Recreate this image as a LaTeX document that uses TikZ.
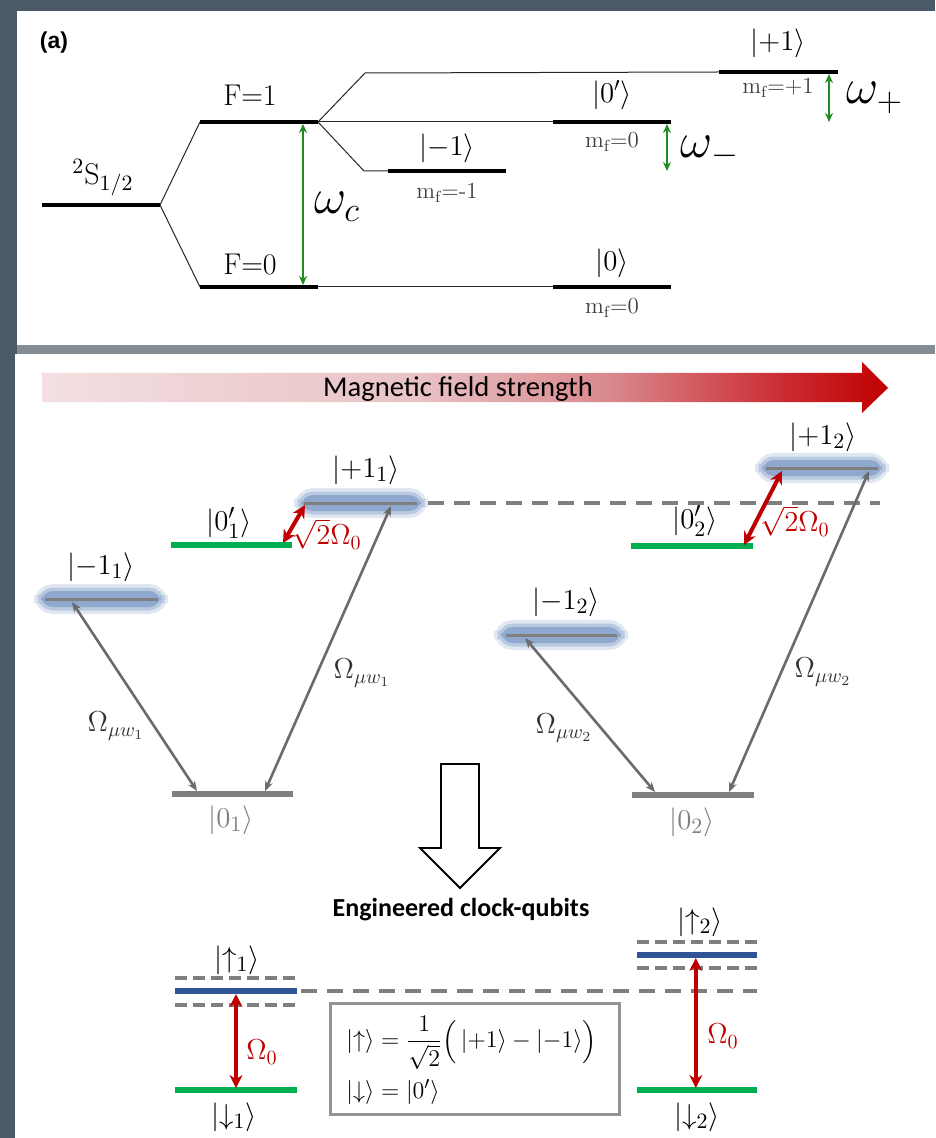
\documentclass[tikz,border=0pt]{standalone}
\usepackage{amsmath}
\usepackage{fontspec}
\newfontfamily\calibri{Carlito}
\newfontfamily\arialf{Liberation Sans}
\usetikzlibrary{arrows.meta, calc}
\definecolor{cFrame}{HTML}{4B5A66}
\definecolor{cSep}{HTML}{848B91}
\definecolor{cOsc}{HTML}{1E8C1E}
\definecolor{cGrn}{HTML}{00B050}
\definecolor{cBlu}{HTML}{2F5597}
\definecolor{cRed}{HTML}{C00000}
\definecolor{cGry}{HTML}{7F7F7F}
\definecolor{cArr}{HTML}{6B6B6B}
\definecolor{cGlow}{HTML}{7393C2}
\definecolor{cF0}{HTML}{F3DFE1}
\definecolor{cF1}{HTML}{E9C3C6}
\definecolor{cF2}{HTML}{D8858A}
\definecolor{cF3}{HTML}{CA2A30}
% Pfad wird auf 25bp..75bp abgebildet
\pgfdeclarehorizontalshading{field}{100bp}{color(0bp)=(cF0); color(25bp)=(cF0);
  color(47bp)=(cF1); color(59bp)=(cF2); color(69bp)=(cF3); color(75bp)=(cRed);
  color(100bp)=(cRed)}
\tikzset{
    lvl/.style   ={line width=2pt, black},
    thn/.style   ={line width=0.5pt, black!85},
    osc/.style   ={{Stealth[length=4.5pt, width=4pt]}-{Stealth[length=4.5pt, width=4pt]},
                   line width=1.4pt, cOsc},
    lbl/.style   ={font=\fontsize{15}{17}\selectfont, inner sep=1pt},
    ket/.style   ={font=\fontsize{14}{16}\selectfont, inner sep=1pt},
    bket/.style  ={font=\fontsize{15}{17}\selectfont, inner sep=1pt},
    mfl/.style   ={font=\fontsize{11.5}{13}\selectfont, text=black!75, inner sep=1pt},
    om/.style    ={font=\fontsize{23}{26}\selectfont, inner sep=1pt},
    glow/.style  ={rounded corners=6pt, fill=cGlow!80, minimum width=60pt,
                   minimum height=8pt, inner sep=0pt,
                   preaction={draw=cGlow!22, line width=7pt},
                   preaction={draw=cGlow!50, line width=3.5pt}},
    glvl/.style  ={line width=1.5pt, cGry},
    zlvl/.style  ={line width=3pt, cGry},
    grn/.style   ={line width=3pt, cGrn},
    blu/.style   ={line width=3pt, cBlu},
    dsh/.style   ={line width=2.2pt, cGry, dash pattern=on 8pt off 5pt},
    sdsh/.style  ={line width=2.2pt, cGry, dash pattern=on 6pt off 3pt},
    mw/.style    ={{Stealth[length=5pt, width=4pt]}-{Stealth[length=5pt, width=4pt]},
                   line width=1.3pt, cArr},
    rab/.style   ={{Stealth[length=6.5pt, width=6.5pt]}-{Stealth[length=6.5pt, width=6.5pt]},
                   line width=2pt, cRed},
    rlb/.style   ={font=\fontsize{14.5}{16}\selectfont, text=cRed, inner sep=1pt},
    oml/.style   ={font=\fontsize{14.5}{16}\selectfont, text=black!80, inner sep=1pt},
}

\begin{document}
\begin{tikzpicture}[x=0.5pt, y=-0.5pt]
\useasboundingbox (0,0) rectangle (935,1138);

% ===================== Rahmen =====================
\fill[cFrame] (0,0) rectangle (935,1138);
\fill[white] (17,11) rectangle (935,345);
\fill[cSep] (17,345) rectangle (935,354);
\fill[white] (15,354) rectangle (935,1138);

% ===================== (a) Hyperfeinstruktur =====================
\node[font=\arialf\bfseries\fontsize{11.5}{13}\selectfont] (tA) at (54,43) {(a)};

\coordinate (gsW) at (42,205);  \coordinate (gsE) at (160,205);
\coordinate (f1W) at (200,122); \coordinate (f1E) at (318,122);
\coordinate (f0W) at (200,287); \coordinate (f0E) at (318,287);
\coordinate (pW) at (719,72);   \coordinate (pE) at (838,72);
\coordinate (zpW) at (553,122); \coordinate (zpE) at (671,122);
\coordinate (mW) at (388,171);  \coordinate (mE) at (506,171);
\coordinate (zW) at (553,287);  \coordinate (zE) at (671,287);
\coordinate (kP) at (365,73);   \coordinate (kM) at (364,171);

\draw[thn] (gsE) -- (f1W);
\draw[thn] (gsE) -- (f0W);
\draw[thn] (f1E) -- (kP) -- (pW);
\draw[thn] (f1E) -- (zpW);
\draw[thn] (f1E) -- (kM) -- (mW);
\draw[thn] (f0E) -- (zW);

\draw[lvl] (gsW) -- (gsE);
\draw[lvl] (f1W) -- (f1E);
\draw[lvl] (f0W) -- (f0E);
\draw[lvl] (pW) -- (pE);
\draw[lvl] (zpW) -- (zpE);
\draw[lvl] (mW) -- (mE);
\draw[lvl] (zW) -- (zE);

\node[lbl] (tS) at (103,178) {$^2\mathrm{S}_{1/2}$};
\node[lbl] (tF1) at (250,95) {F=1};
\node[lbl] (tF0) at (250,265) {F=0};
\node[ket] (tP) at (778,43) {$|{+1}\rangle$};
\node[ket] (tZp) at (612,95) {$|0'\rangle$};
\node[ket] (tM) at (447,148) {$|{-1}\rangle$};
\node[ket] (tZ) at (612,263) {$|0\rangle$};
\node[mfl] (mfP) at (778,88) {m$_\mathrm{f}$=+1};
\node[mfl] (mfZp) at (612,142) {m$_\mathrm{f}$=0};
\node[mfl] (mfM) at (447,193) {m$_\mathrm{f}$=-1};
\node[mfl] (mfZ) at (612,308) {m$_\mathrm{f}$=0};

\draw[osc] ($(f1E)+(-15,2)$) -- ($(f0E)+(-15,-2)$);
\draw[osc] ($(zpE)+(-4,2)$) -- ($(zpE |- mE)+(-4,0)$);
\draw[osc] ($(pE)+(-9,2)$) -- ($(pE |- zpE)+(-9,0)$);
\node[om] (wC) at (337,207) {$\omega_c$};
\node[om] (wM) at (710,152) {$\omega_-$};
\node[om] (wP) at (875,98) {$\omega_+$};

% ===================== Magnetfeld-Pfeil =====================
\shade[shading=field] (42,373) -- (862,373) -- (862,362) -- (888,388)
      -- (862,413) -- (862,402) -- (42,402) -- cycle;
\node[font=\calibri\fontsize{14.3}{16}\selectfont] (mfTxt) at (458,389)
     {Magnetic field strength};

% ===================== Niveaus, Qubit 1 und 2 =====================
\node[glow] (gM1) at (101,599) {};
\node[glow] (gP1) at (361,503) {};
\node[glow] (gM2) at (561,635) {};
\node[glow] (gP2) at (822,468) {};

\coordinate (m1W) at (45,599);   \coordinate (m1E) at (158,599);
\coordinate (p1W) at (304,503);  \coordinate (p1E) at (417,503);
\coordinate (q1W) at (171,545);  \coordinate (q1E) at (292,545);
\coordinate (o1W) at (172,794);  \coordinate (o1E) at (293,794);
\coordinate (m2W) at (506,635);  \coordinate (m2E) at (617,635);
\coordinate (p2W) at (766,468);  \coordinate (p2E) at (878,468);
\coordinate (q2W) at (631,546);  \coordinate (q2E) at (753,546);
\coordinate (o2W) at (632,795);  \coordinate (o2E) at (754,795);
\coordinate (dshE) at (880,503);

\draw[dsh] ($(p1E)+(11,0)$) -- (dshE);
\draw[glvl] (m1W) -- (m1E);
\draw[glvl] (p1W) -- (p1E);
\draw[glvl] (m2W) -- (m2E);
\draw[glvl] (p2W) -- (p2E);
\draw[grn] (q1W) -- (q1E);
\draw[grn] (q2W) -- (q2E);
\draw[zlvl] (o1W) -- (o1E);
\draw[zlvl] (o2W) -- (o2E);

\node[bket] (kM1) at (101,567) {$|{-1_1}\rangle$};
\node[bket] (kQ1) at (229,523) {$|0_1'\rangle$};
\node[bket] (kP1) at (366,470) {$|{+1_1}\rangle$};
\node[bket, text=cGry] (kO1) at (231,820) {$|0_1\rangle$};
\node[bket] (kM2) at (566,602) {$|{-1_2}\rangle$};
\node[bket] (kQ2) at (695,521) {$|0_2'\rangle$};
\node[bket] (kP2) at (823,437) {$|{+1_2}\rangle$};
\node[bket, text=cGry] (kO2) at (692,822) {$|0_2\rangle$};

% Mikrowellen
\coordinate (a1t) at (72,602);  \coordinate (a1b) at (197,791);
\coordinate (a2t) at (391,506); \coordinate (a2b) at (265,791);
\coordinate (a3t) at (525,638); \coordinate (a3b) at (655,792);
\coordinate (a4t) at (869,471); \coordinate (a4b) at (729,792);
\draw[mw] (a1t) -- (a1b);
\draw[mw] (a2t) -- (a2b);
\draw[mw] (a3t) -- (a3b);
\draw[mw] (a4t) -- (a4b);
\node[oml] (w1a) at (116,726) {$\Omega_{\mu w_1}$};
\node[oml] (w1b) at (362,673) {$\Omega_{\mu w_1}$};
\node[oml] (w2a) at (564,728) {$\Omega_{\mu w_2}$};
\node[oml] (w2b) at (823,672) {$\Omega_{\mu w_2}$};

% Raman-Kopplung
\coordinate (r1a) at (283,543); \coordinate (r1b) at (305,505);
\coordinate (r2a) at (744,545); \coordinate (r2b) at (782,471);
\draw[rab] (r1a) -- (r1b);
\draw[rab] (r2a) -- (r2b);
\node[rlb] (s1) at (327,534) {$\sqrt{2}\Omega_0$};
\node[rlb] (s2) at (795,521) {$\sqrt{2}\Omega_0$};

% ===================== Pfeil nach unten =====================
\draw[line width=0.9pt, fill=white] (441,764) -- (479,764) -- (479,848) -- (500,848)
      -- (460,888) -- (420,848) -- (441,848) -- cycle;
\node[font=\calibri\bfseries\fontsize{13}{15}\selectfont] (eng) at (461,910)
     {Engineered clock-qubits};

% ===================== Uhr-Qubits =====================
\coordinate (u1W) at (175,991);  \coordinate (u1E) at (297,991);
\coordinate (d1W) at (175,1090); \coordinate (d1E) at (297,1090);
\coordinate (u2W) at (637,955);  \coordinate (u2E) at (757,955);
\coordinate (d2W) at (637,1090); \coordinate (d2E) at (757,1090);

\draw[dsh] ($(u1E)+(4,0)$) -- (u1E -| u2E);
\draw[sdsh] ($(u1W)+(0,-13)$) -- ($(u1E)+(0,-13)$);
\draw[sdsh] ($(u1W)+(0,14)$) -- ($(u1E)+(0,14)$);
\draw[sdsh] ($(u2W)+(0,-13)$) -- ($(u2E)+(0,-13)$);
\draw[sdsh] ($(u2W)+(0,13)$) -- ($(u2E)+(0,13)$);
\draw[blu] (u1W) -- (u1E);
\draw[blu] (u2W) -- (u2E);
\draw[grn] (d1W) -- (d1E);
\draw[grn] (d2W) -- (d2E);

\draw[rab] ($(u1W)!0.5!(u1E)+(0,3)$) -- ($(d1W)!0.5!(d1E)+(0,-2)$);
\draw[rab] ($(u2W)!0.49!(u2E)+(0,3)$) -- ($(d2W)!0.49!(d2E)+(0,-2)$);
\node[rlb] (o1) at (262,1052) {$\Omega_0$};
\node[rlb] (o2) at (723,1036) {$\Omega_0$};

\node[bket] (kU1) at (237,960) {$|{\uparrow_1}\rangle$};
\node[bket] (kD1) at (234,1117) {$|{\downarrow_1}\rangle$};
\node[bket] (kU2) at (700,922) {$|{\uparrow_2}\rangle$};
\node[bket] (kD2) at (697,1117) {$|{\downarrow_2}\rangle$};

% Definition
\draw[cGry!85, line width=1.5pt] (330,1003) rectangle (619,1114);
\node[anchor=west, font=\fontsize{12.5}{14}\selectfont, inner sep=0pt] (defU) at (346,1043)
     {$|{\uparrow}\rangle = \dfrac{1}{\sqrt{2}}\Big(\,|{+1}\rangle - |{-1}\rangle\Big)$};
\node[anchor=west, font=\fontsize{12.5}{14}\selectfont, inner sep=0pt] (defD) at (346,1092)
     {$|{\downarrow}\rangle = |0'\rangle$};

\end{tikzpicture}
\end{document}
